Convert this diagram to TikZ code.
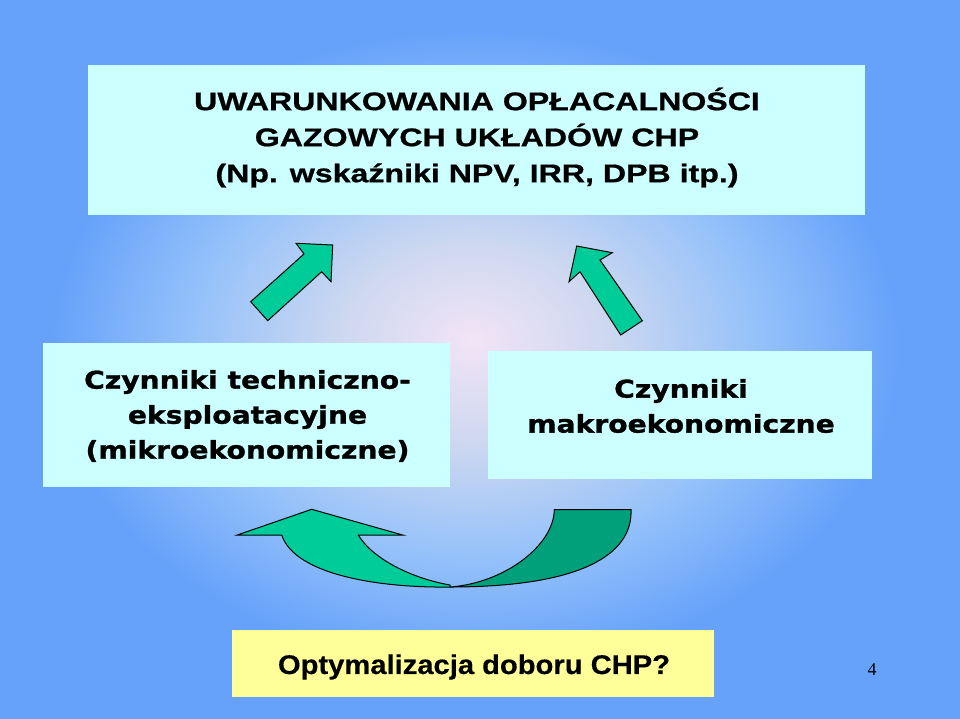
\documentclass[tikz,border=0pt]{standalone}
\usepackage{fontspec}
\newfontfamily\topfont[FakeStretch=1.26,FakeBold=0.8]{Liberation Sans Bold}
\newfontfamily\midfont[FakeStretch=1.15,FakeBold=1.2]{DejaVu Sans Bold}
\newfontfamily\botfont[FakeStretch=1.08,FakeBold=0.3]{Liberation Sans Bold}
\newfontfamily\numfont{Liberation Serif}
\definecolor{bgA}{RGB}{242,228,246}
\definecolor{bgB}{RGB}{205,216,240}
\definecolor{bgC}{RGB}{150,194,250}
\definecolor{bgD}{RGB}{102,162,250}
\definecolor{boxc}{RGB}{204,255,255}
\definecolor{yelc}{RGB}{255,255,153}
\definecolor{grnA}{RGB}{0,204,153}
\definecolor{grnB}{RGB}{0,160,122}
\pgfdeclareradialshading{bgshade}{\pgfpoint{-0.4bp}{1.3bp}}{color(0bp)=(bgA); color(6.9bp)=(bgB); color(14.4bp)=(bgC); color(21.9bp)=(bgD); color(50bp)=(bgD)}
\tikzset{
  box/.style={rectangle, inner sep=0pt, draw=none},
  blockarrow/.style={draw=black, line width=1pt, line join=miter},
}
\begin{document}
\begin{tikzpicture}[x=1pt,y=-1pt]
\useasboundingbox (0,0) rectangle (960,718);
\shade[shading=bgshade] (-5,-5) rectangle (965,723);

% boxes
\node[box, fill=boxc, minimum width=777pt, minimum height=150pt] (topbox) at (476.5,140) {};
\node[box, fill=boxc, minimum width=407pt, minimum height=144pt] (leftbox) at (246.5,415) {};
\node[box, fill=boxc, minimum width=384pt, minimum height=128pt] (rightbox) at (680,415) {};
\node[box, fill=yelc, minimum width=482pt, minimum height=67pt] (botbox) at (473,663.5) {};

% texts
\node[font=\topfont\fontsize{25.5}{36}\selectfont, align=center, inner sep=0pt] (toptext) at (477,137.5)
  {UWARUNKOWANIA OPŁACALNOŚCI\\GAZOWYCH UKŁADÓW CHP\\(Np. wskaźniki NPV, IRR, DPB itp.)};
\node[font=\midfont\fontsize{24.5}{35}\selectfont, align=center, inner sep=0pt] (lefttext) at (247.5,416)
  {Czynniki techniczno-\\eksploatacyjne\\(mikroekonomiczne)};
\node[font=\midfont\fontsize{24.5}{35}\selectfont, align=center, inner sep=0pt] (righttext) at (681,406)
  {Czynniki\\makroekonomiczne};
\node[font=\botfont\fontsize{27}{30}\selectfont, inner sep=0pt] (bottext) at (474,667)
  {Optymalizacja doboru CHP?};
\node[font=\numfont\fontsize{18}{20}\selectfont, inner sep=0pt] (pagenum) at (872,670) {4};

% upper left arrow
\draw[blockarrow, fill=grnA] (250.7,301.7) -- (304,254) -- (296,243.3) -- (332.7,245) -- (331,281.7)
  -- (321.7,271.7) -- (267.7,320.7) -- cycle;
% upper right arrow
\draw[blockarrow, fill=grnA] (576.7,246) -- (612.3,252.7) -- (600,260) -- (642.3,320.7)
  -- (620.7,335) -- (580,271.7) -- (569,281.7) -- cycle;

% bottom curved arrow: back (dark) part
\draw[blockarrow, fill=grnB] (554.3,509.5) -- (631,509.5)
  .. controls (633,555) and (580,587) .. (450,587)
  .. controls (505,583) and (554,545) .. (554.3,509.5) -- cycle;
% front (light) part with head
\draw[blockarrow, fill=grnA] (281.7,535) -- (237.3,535) -- (311.7,509.3) -- (402.7,535) -- (358.3,535)
  .. controls (372,558) and (410,578) .. (450,585)
  -- (450,587)
  .. controls (380,588) and (295,575) .. (281.7,535) -- cycle;
\end{tikzpicture}
\end{document}
